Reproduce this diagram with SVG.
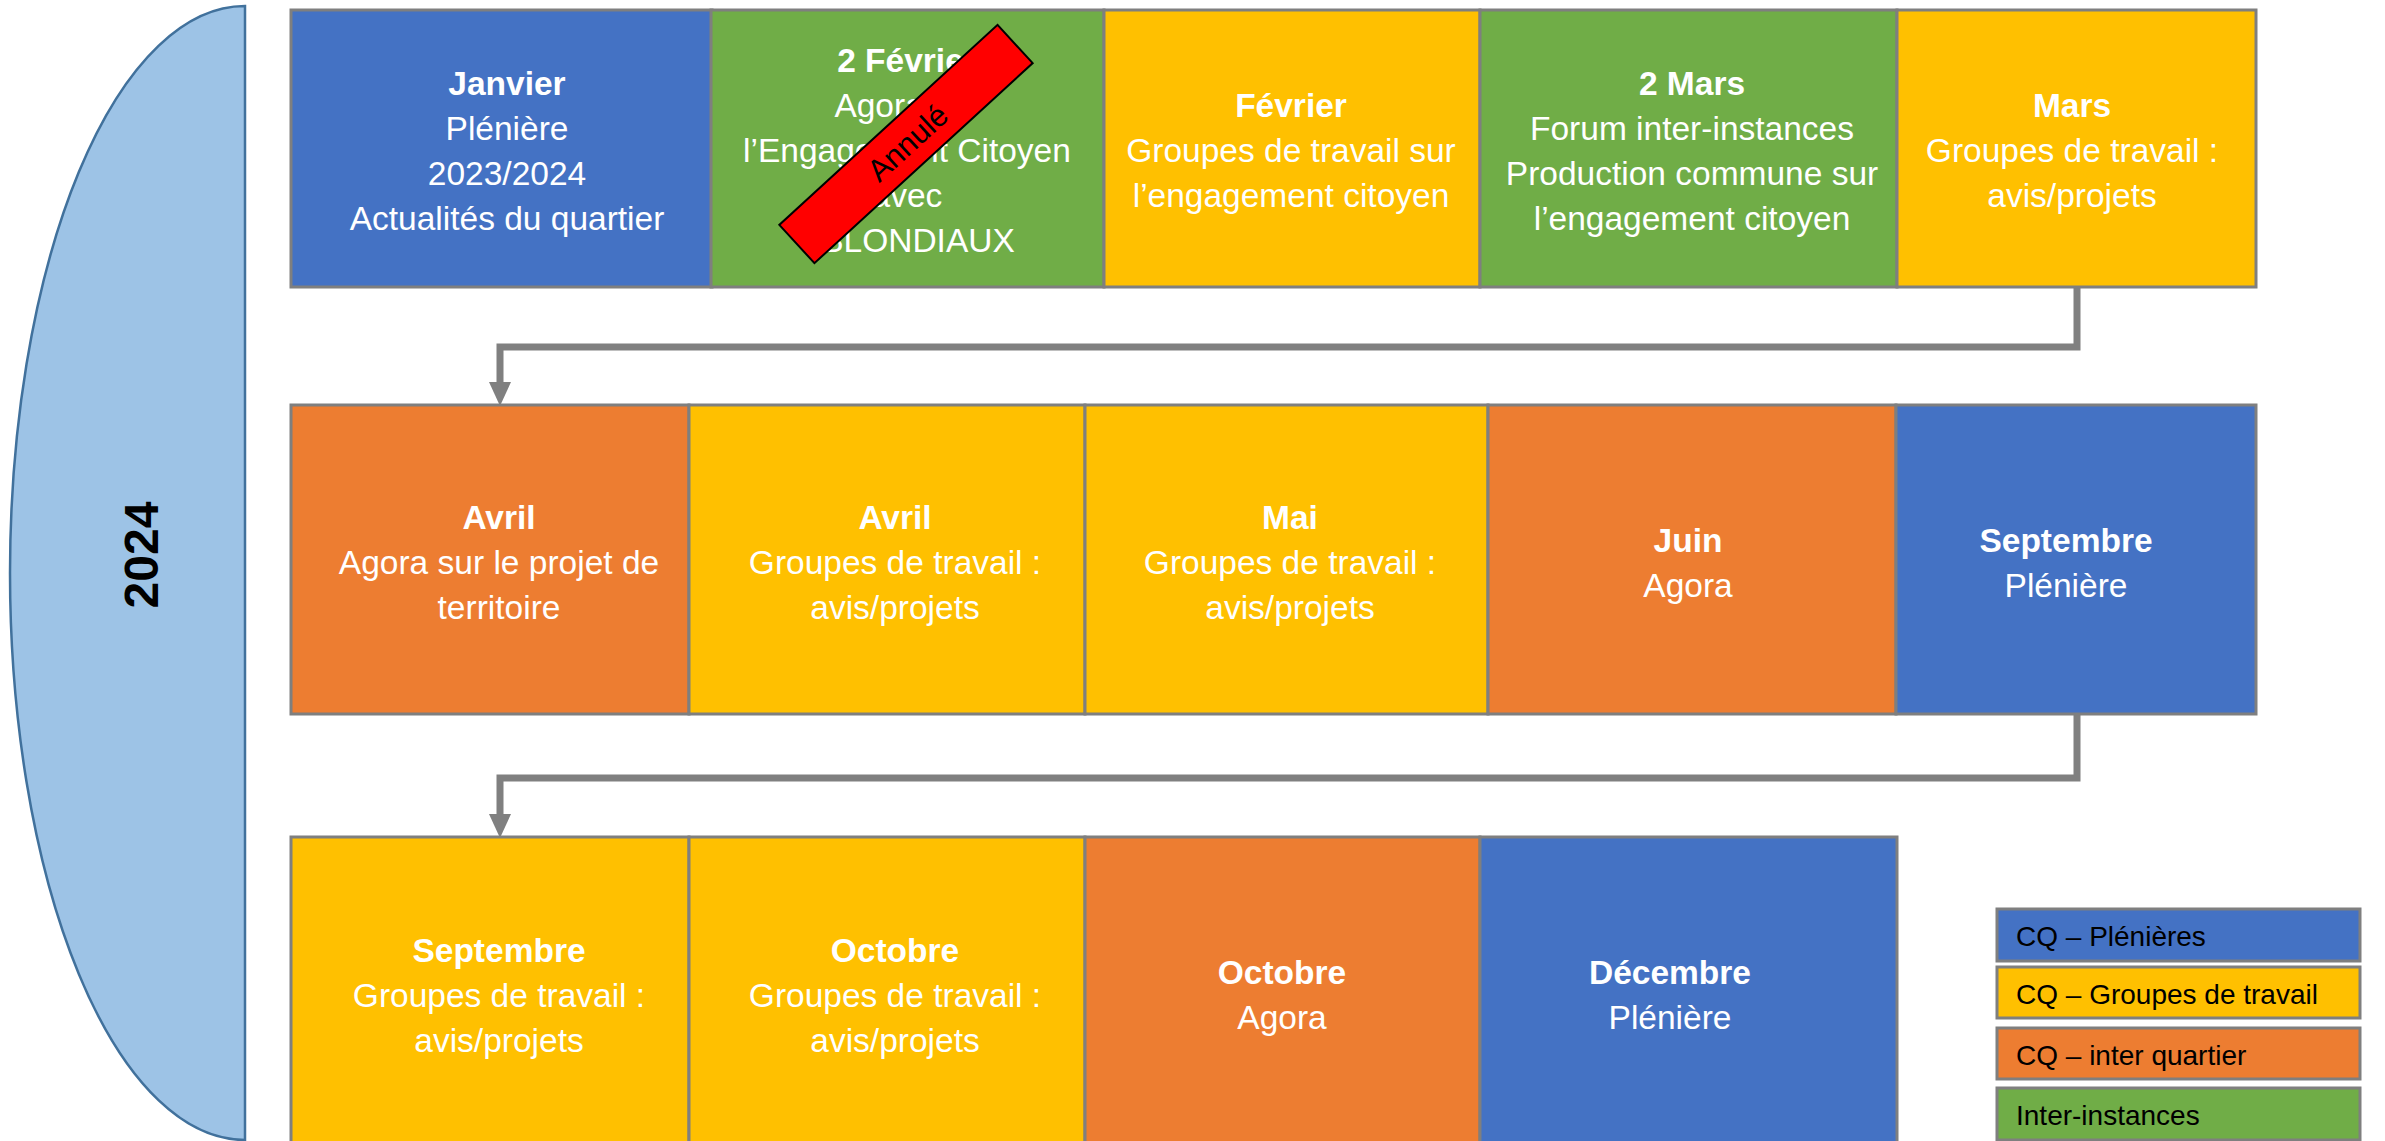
<svg xmlns="http://www.w3.org/2000/svg" width="2385" height="1141" viewBox="0 0 2385 1141">
<style>
.box{stroke:#7f7f7f;stroke-width:3}
.blue{fill:#4472c4}.green{fill:#70ad47}.yellow{fill:#ffc000}.orange{fill:#ed7d31}
.t{font-family:"Liberation Sans",Arial,sans-serif;font-size:33.5px;fill:#ffffff;text-anchor:middle}
.b{font-weight:bold}
.lg{font-family:"Liberation Sans",Arial,sans-serif;font-size:28px;fill:#000000}
.conn{fill:none;stroke:#808080;stroke-width:7}
</style>
<defs>
<marker id="arr" markerUnits="userSpaceOnUse" markerWidth="24" markerHeight="22" refX="0" refY="11" orient="auto" viewBox="0 0 24 22">
<path d="M0,0 L24,11 L0,22 Z" fill="#808080"/>
</marker>
</defs>
<rect width="2385" height="1141" fill="#ffffff"/>

<g id="year">
<path d="M245,6 A235,567 0 0 0 245,1140 Z" fill="#9dc3e6" stroke="#41719c" stroke-width="2.5"/>
<text x="0" y="0" transform="translate(158,555) rotate(-90)" font-family="'Liberation Sans',Arial,sans-serif" font-weight="bold" font-size="48" text-anchor="middle" fill="#000000">2024</text>
</g>

<g id="connectors">
<path class="conn" d="M2077,287 V347 H500 V382" marker-end="url(#arr)"/>
<path class="conn" d="M2077,714 V778 H500 V814" marker-end="url(#arr)"/>
</g>

<g id="janvier">
<rect class="box blue" x="291" y="10" width="421" height="277"/>
<text class="t b" x="507" y="95">Janvier</text>
<text class="t" x="507" y="140">Plénière</text>
<text class="t" x="507" y="185">2023/2024</text>
<text class="t" x="507" y="230">Actualités du quartier</text>
</g>
<g id="fevrier2">
<rect class="box green" x="711" y="10" width="393" height="277"/>
<text class="t b" x="907" y="72">2 Février</text>
<text class="t" x="907" y="117">Agora sur</text>
<text class="t" x="907" y="162">l’Engagement Citoyen</text>
<text class="t" x="907" y="207">avec</text>
<text class="t" x="918" y="252">BLONDIAUX</text>
<g id="annule" transform="translate(906,144) rotate(-42.5)">
<rect x="-148" y="-26" width="296" height="52" fill="#ff0000" stroke="#000000" stroke-width="2"/>
<text x="2" y="11" font-family="'Liberation Sans',Arial,sans-serif" font-size="31" text-anchor="middle" fill="#000000">Annulé</text>
</g>
</g>
<g id="fevrier">
<rect class="box yellow" x="1104" y="10" width="376" height="277"/>
<text class="t b" x="1291" y="117">Février</text>
<text class="t" x="1291" y="162">Groupes de travail sur</text>
<text class="t" x="1291" y="207">l’engagement citoyen</text>
</g>
<g id="mars2">
<rect class="box green" x="1480" y="10" width="417" height="277"/>
<text class="t b" x="1692" y="95">2 Mars</text>
<text class="t" x="1692" y="140">Forum inter-instances</text>
<text class="t" x="1692" y="185">Production commune sur</text>
<text class="t" x="1692" y="230">l’engagement citoyen</text>
</g>
<g id="mars">
<rect class="box yellow" x="1897" y="10" width="359" height="277"/>
<text class="t b" x="2072" y="117">Mars</text>
<text class="t" x="2072" y="162">Groupes de travail :</text>
<text class="t" x="2072" y="207">avis/projets</text>
</g>

<g id="avril1">
<rect class="box orange" x="291" y="405" width="398" height="309"/>
<text class="t b" x="499" y="529">Avril</text>
<text class="t" x="499" y="574">Agora sur le projet de</text>
<text class="t" x="499" y="619">territoire</text>
</g>
<g id="avril2">
<rect class="box yellow" x="689" y="405" width="396" height="309"/>
<text class="t b" x="895" y="529">Avril</text>
<text class="t" x="895" y="574">Groupes de travail :</text>
<text class="t" x="895" y="619">avis/projets</text>
</g>
<g id="mai">
<rect class="box yellow" x="1085" y="405" width="403" height="309"/>
<text class="t b" x="1290" y="529">Mai</text>
<text class="t" x="1290" y="574">Groupes de travail :</text>
<text class="t" x="1290" y="619">avis/projets</text>
</g>
<g id="juin">
<rect class="box orange" x="1488" y="405" width="408" height="309"/>
<text class="t b" x="1688" y="552">Juin</text>
<text class="t" x="1688" y="597">Agora</text>
</g>
<g id="septembre1">
<rect class="box blue" x="1896" y="405" width="360" height="309"/>
<text class="t b" x="2066" y="552">Septembre</text>
<text class="t" x="2066" y="597">Plénière</text>
</g>

<g id="septembre2">
<rect class="box yellow" x="291" y="837" width="398" height="320"/>
<text class="t b" x="499" y="962">Septembre</text>
<text class="t" x="499" y="1007">Groupes de travail :</text>
<text class="t" x="499" y="1052">avis/projets</text>
</g>
<g id="octobre1">
<rect class="box yellow" x="689" y="837" width="396" height="320"/>
<text class="t b" x="895" y="962">Octobre</text>
<text class="t" x="895" y="1007">Groupes de travail :</text>
<text class="t" x="895" y="1052">avis/projets</text>
</g>
<g id="octobre2">
<rect class="box orange" x="1085" y="837" width="395" height="320"/>
<text class="t b" x="1282" y="984">Octobre</text>
<text class="t" x="1282" y="1029">Agora</text>
</g>
<g id="decembre">
<rect class="box blue" x="1480" y="837" width="417" height="320"/>
<text class="t b" x="1670" y="984">Décembre</text>
<text class="t" x="1670" y="1029">Plénière</text>
</g>

<g id="legend">
<rect class="box blue" x="1997" y="909" width="363" height="52"/>
<text class="lg" x="2016" y="946">CQ – Plénières</text>
<rect class="box yellow" x="1997" y="967" width="363" height="51"/>
<text class="lg" x="2016" y="1004">CQ – Groupes de travail</text>
<rect class="box orange" x="1997" y="1028" width="363" height="51"/>
<text class="lg" x="2016" y="1065">CQ – inter quartier</text>
<rect class="box green" x="1997" y="1088" width="363" height="52"/>
<text class="lg" x="2016" y="1125">Inter-instances</text>
</g>
</svg>
